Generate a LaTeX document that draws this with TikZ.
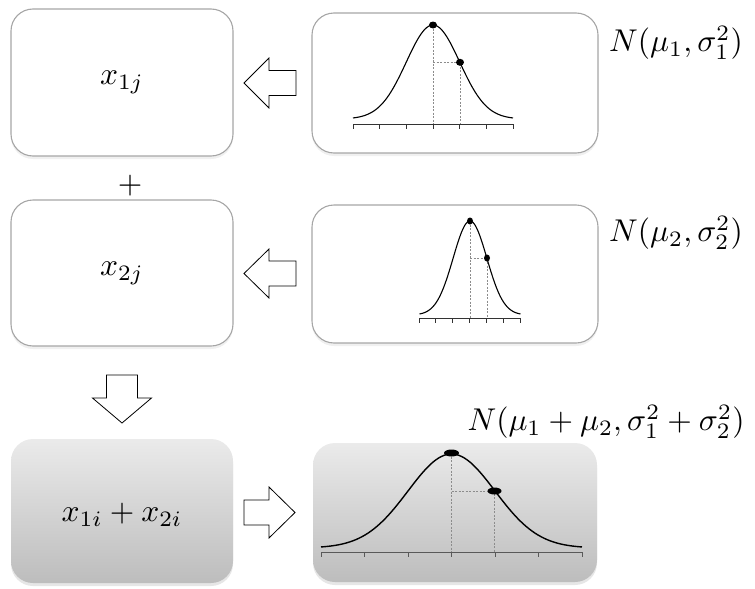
\documentclass[tikz,border=0pt]{standalone}
\usetikzlibrary{shadows}
\begin{document}
\begin{tikzpicture}[x=1pt,y=-1pt,
  bigtext/.style={inner sep=0pt, scale=3.15},
  whitebox/.style={draw=black!35, line width=1.1pt, fill=white, rounded corners=22pt,
    inner sep=0pt,
    drop shadow={opacity=0.12, shadow xshift=0pt, shadow yshift=-3pt}},
  graybox/.style={draw=none, top color=black!8, bottom color=black!26, rounded corners=22pt,
    inner sep=0pt,
    drop shadow={opacity=0.2, shadow xshift=0pt, shadow yshift=-3pt}},
  blockarr/.style={draw=black, line width=0.8pt, fill=white, line join=miter},
  curve/.style={draw=black, line width=1.1pt},
  axisline/.style={draw=black!80, line width=0.9pt},
  guide/.style={draw=black!45, line width=0.6pt, dash pattern=on 2pt off 1.5pt},
  dot/.style={fill=black}
]
\useasboundingbox (0,0) rectangle (755,589);

% left boxes
\node[whitebox, minimum width=222pt, minimum height=147pt] (l1) at (122,82.5) {};
\node[whitebox, minimum width=222pt, minimum height=146pt] (l2) at (122,273) {};
\node[graybox, minimum width=222pt, minimum height=144pt] (l3) at (122,511) {};
\node[bigtext] (t1) at (l1.center) {$x_{1j}$};
\node[bigtext] (t2) at (l2.center) {$x_{2j}$};
\node[bigtext] (t3) at ([yshift=-4pt]l3.center) {$x_{1i}+x_{2i}$};
\node[bigtext] (plus) at (130,186) {$+$};

% right boxes
\node[whitebox, minimum width=286pt, minimum height=140pt] (r1) at (455,83) {};
\node[whitebox, minimum width=286pt, minimum height=138pt] (r2) at (455,274) {};
\node[graybox, minimum width=284pt, minimum height=139pt] (r3) at (455,512.5) {};

% labels
\node[bigtext] (n1) at (676,43) {$N(\mu_1,\sigma_1^2)$};
\node[bigtext] (n2) at (676,233) {$N(\mu_2,\sigma_2^2)$};
\node[bigtext] (n3) at (606,422) {$N(\mu_1+\mu_2,\sigma_1^2+\sigma_2^2)$};

% block arrows
\coordinate (a1) at (244,83);
\coordinate (a2) at (244,273.5);
\coordinate (a3) at (295,512.5);
\coordinate (a4) at (122,423);
\draw[blockarr] (a1) -- ++(25,-25) -- ++(0,12.5) -- ++(27,0) -- ++(0,25) -- ++(-27,0) -- ++(0,12.5) -- cycle;
\draw[blockarr] (a2) -- ++(25,-24.5) -- ++(0,12) -- ++(27,0) -- ++(0,25) -- ++(-27,0) -- ++(0,12) -- cycle;
\draw[blockarr] (a3) -- ++(-26,-25.5) -- ++(0,13) -- ++(-25,0) -- ++(0,25) -- ++(25,0) -- ++(0,13) -- cycle;
\draw[blockarr] (a4) -- ++(-29.5,-25) -- ++(14,0) -- ++(0,-23) -- ++(31,0) -- ++(0,23) -- ++(14,0) -- cycle;

% curve 1
\draw[guide] (433,25) -- (433,124);
\draw[guide] (433,62.3) -- (460,62.3) -- (460,124);
\draw[curve] plot[domain=-3:3, samples=90, smooth] ({433+26.67*\x},{119-94*exp(-\x*\x/2)});
\draw[axisline] (353,124) -- (513,124);
\foreach \i in {0,...,6} \draw[axisline] ({353+26.67*\i},124) -- ++(0,4.5);
\fill[dot] (433,25) ellipse [x radius=4pt, y radius=3.5pt];
\fill[dot] (460,62.3) ellipse [x radius=4pt, y radius=3.5pt];

% curve 2
\draw[guide] (470,221) -- (470,318);
\draw[guide] (470,258) -- (487,258) -- (487,318);
\draw[curve] plot[domain=-3:3, samples=90, smooth] ({470+16.83*\x},{315-94*exp(-\x*\x/2)});
\draw[axisline] (419,318) -- (520,318);
\foreach \i in {0,...,6} \draw[axisline] ({419+16.83*\i},318) -- ++(0,4.5);
\fill[dot] (470,221) ellipse [x radius=3pt, y radius=3.5pt];
\fill[dot] (487,258) ellipse [x radius=3pt, y radius=3.5pt];

% curve 3
\draw[guide] (451.5,453) -- (451.5,552);
\draw[guide] (451.5,491) -- (494.5,491) -- (494.5,552);
\draw[curve, line width=1.4pt] plot[domain=-3:3, samples=90, smooth] ({451.5+43.5*\x},{548-94*exp(-\x*\x/2)});
\draw[axisline, draw=black!65] (321,552) -- (582,552);
\foreach \i in {0,...,6} \draw[axisline, draw=black!65] ({321+43.5*\i},552) -- ++(0,4.5);
\fill[dot] (451.5,453) ellipse [x radius=7.5pt, y radius=3.5pt];
\fill[dot] (494.5,491) ellipse [x radius=7pt, y radius=3.5pt];
\end{tikzpicture}
\end{document}
